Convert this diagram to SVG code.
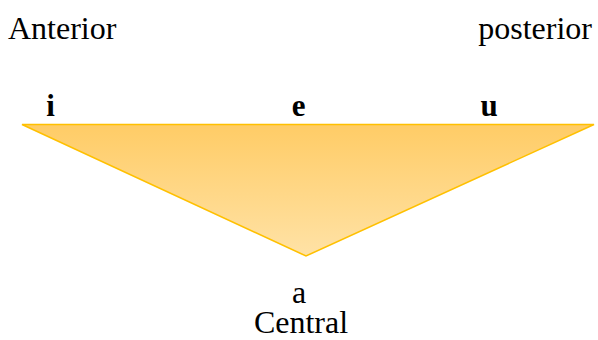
<svg xmlns="http://www.w3.org/2000/svg" width="598" height="340" viewBox="0 0 598 340">
<defs>
<linearGradient id="g" x1="0" y1="0" x2="0" y2="1">
<stop offset="0" stop-color="#FFCC66"/>
<stop offset="1" stop-color="#FFE2A6"/>
</linearGradient>
<style>
.t{font-family:"Liberation Serif","Times New Roman",serif;font-size:32px;fill:#000}
.b{font-family:"Liberation Serif","Times New Roman",serif;font-size:31px;font-weight:bold;fill:#000}
</style>
</defs>
<rect width="598" height="340" fill="#fff"/>
<g id="triangle">
<polygon points="22,124.5 594,124.5 306,256" fill="url(#g)" stroke="#FFC000" stroke-width="1.5"/>
</g>
<g id="labels">
<text class="t" x="8" y="39">Anterior</text>
<text class="t" x="592" y="39" text-anchor="end">posterior</text>
<text class="b" x="50.5" y="116" text-anchor="middle">i</text>
<text class="b" x="298.7" y="116" text-anchor="middle">e</text>
<text class="b" x="489" y="116" text-anchor="middle">u</text>
<text class="t" text-anchor="middle"><tspan x="299" y="303">a</tspan><tspan x="301" y="333">Central</tspan></text>
</g>
<g id="connectors"/>
</svg>
